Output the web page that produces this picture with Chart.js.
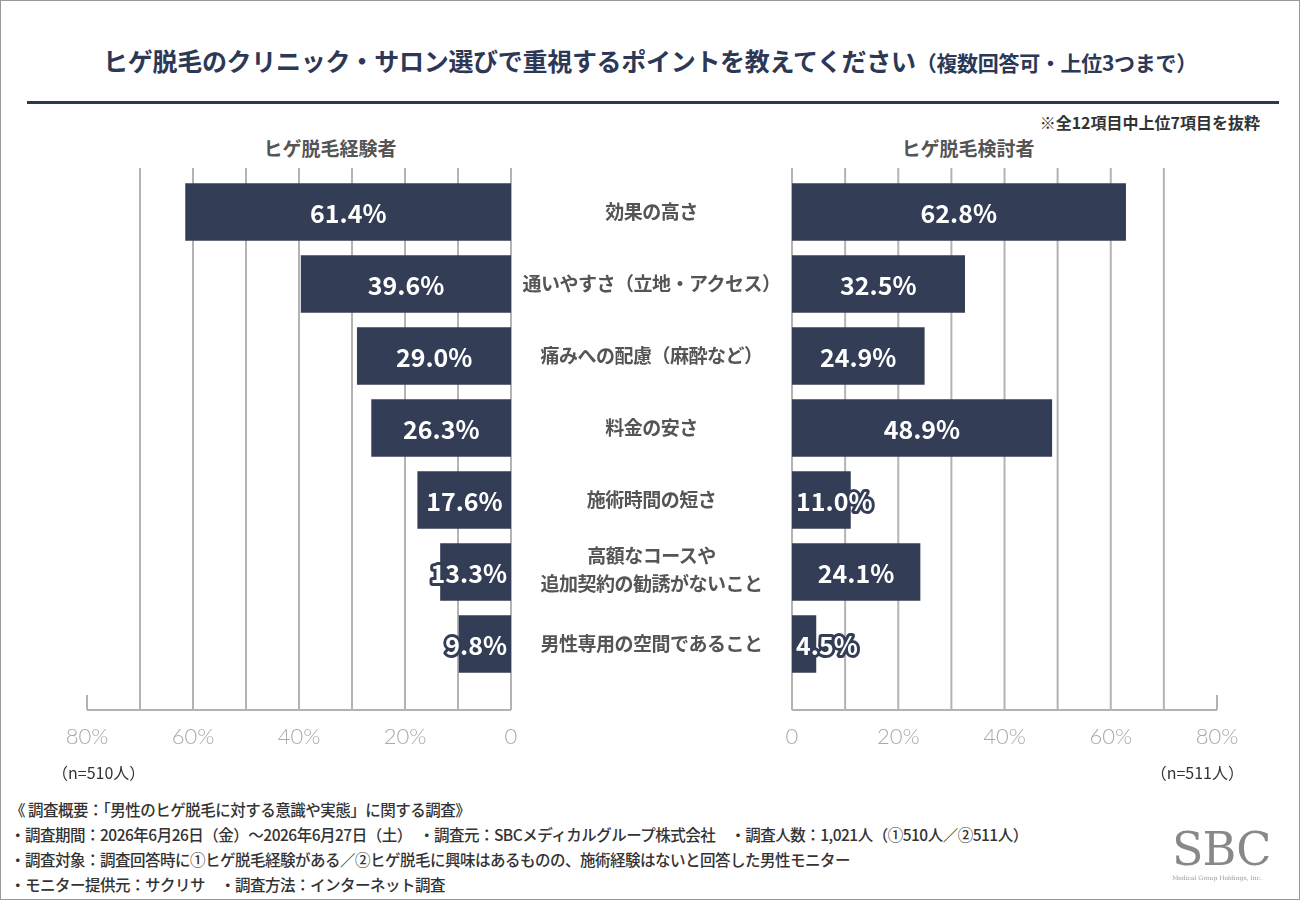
<!DOCTYPE html>
<html><head><meta charset="utf-8">
<script src="https://cdn.jsdelivr.net/npm/chart.js@4"></script>
<style>
body{margin:0;width:1300px;height:900px;position:relative;background:#fff;font-family:"Noto Sans CJK JP",sans-serif;overflow:hidden}
.frame{position:absolute;left:0;top:0;width:1298px;height:898px;border:1px solid #999}
.t{position:absolute;white-space:nowrap;font-weight:bold}
canvas{position:absolute}
</style></head><body>
<div class="frame"></div>
<div class="t" style="left:0;width:1300px;top:42px;text-align:center;font-size:25px;color:#2c3856;letter-spacing:-0.3px">ヒゲ脱毛のクリニック・サロン選びで重視するポイントを教えてください<span style="font-size:21px">（複数回答可・上位3つまで）</span></div>
<div style="position:absolute;left:27px;top:101px;width:1252px;height:3px;background:#2c3856"></div>
<div class="t" style="right:40px;top:110px;font-size:16px;color:#333">※全12項目中上位7項目を抜粋</div>
<div class="t" style="left:230px;width:200px;text-align:center;top:134px;font-size:19px;color:#555">ヒゲ脱毛経験者</div>
<div class="t" style="left:868px;width:200px;text-align:center;top:134px;font-size:19px;color:#555">ヒゲ脱毛検討者</div>
<canvas id="left" width="560" height="620" style="left:0;top:160px;width:560px;height:620px"></canvas>
<canvas id="right" width="560" height="620" style="left:740px;top:160px;width:560px;height:620px"></canvas>
<div id="cats"></div>
<div class="t" style="left:52px;top:760px;font-size:16px;color:#333;font-weight:normal">（n=510人）</div>
<div class="t" style="right:56px;top:760px;font-size:16px;color:#333;font-weight:normal">（n=511人）</div>
<div class="t" style="left:10px;top:797px;font-size:15.5px;color:#333;line-height:25px;font-weight:500;letter-spacing:-0.5px">
《 調査概要：「男性のヒゲ脱毛に対する意識や実態」に関する調査》<br>
・調査期間：2026年6月26日（金）～2026年6月27日（土）　・調査元：SBCメディカルグループ株式会社　・調査人数：1,021人（①510人／②511人）<br>
・調査対象：調査回答時に①ヒゲ脱毛経験がある／②ヒゲ脱毛に興味はあるものの、施術経験はないと回答した男性モニター<br>
・モニター提供元：サクリサ　・調査方法：インターネット調査</div>
<div style="position:absolute;left:1172px;top:826px;width:90px;text-align:center;font-family:'DejaVu Serif',serif;color:#888;font-size:46px;line-height:46px;letter-spacing:-1px">SBC</div>
<div style="position:absolute;left:1172px;top:874px;width:90px;text-align:center;font-family:'DejaVu Serif',serif;color:#999;font-size:6px">Medical Group Holdings, Inc.</div>
<script>
const categories = ['効果の高さ', '通いやすさ（立地・アクセス）', '痛みへの配慮（麻酔など）', '料金の安さ', '施術時間の短さ', '高額なコースや\n追加契約の勧誘がないこと', '男性専用の空間であること'];
const experienced = [61.4, 39.6, 29.0, 26.3, 17.6, 13.3, 9.8];
const considering = [62.8, 32.5, 24.9, 48.9, 11.0, 24.1, 4.5];
const tickValues = [0, 20, 40, 60, 80];

const navy = '#333d55';

// gridlines, axis and bar value labels
const decor = {
    id: 'decor',
    beforeDatasetsDraw(chart) {
        const ctx = chart.ctx, x = chart.scales.x, top = chart.chartArea.top - 8, base = chart.chartArea.bottom + 30;
        ctx.save();
        ctx.strokeStyle = '#b3b3b3';
        ctx.lineWidth = 2;
        for (let v = 0; v <= 80; v += 10) {
            const px = x.getPixelForValue(v);
            ctx.beginPath();
            ctx.moveTo(px, v === 80 ? base - 15 : top);
            ctx.lineTo(px, base);
            ctx.stroke();
        }
        ctx.beginPath();
        ctx.moveTo(x.getPixelForValue(0), base);
        ctx.lineTo(x.getPixelForValue(80), base);
        ctx.stroke();
        ctx.restore();
    },
    afterDatasetsDraw(chart) {
        const ctx = chart.ctx, meta = chart.getDatasetMeta(0), rev = chart.options.scales.x.reverse;
        const data = chart.data.datasets[0].data;
        ctx.save();
        ctx.font = 'bold 25px "Noto Sans CJK JP"';
        ctx.textBaseline = 'middle';
        ctx.lineJoin = 'round';
        meta.data.forEach((bar, i) => {
            const txt = data[i].toFixed(1) + '%';
            const w = ctx.measureText(txt).width;
            const len = Math.abs(bar.x - bar.base);
            let cx;
            if (w + 10 < len) cx = (bar.x + bar.base) / 2;
            else cx = rev ? bar.base - 4 - w / 2 : bar.base + 4 + w / 2;
            ctx.textAlign = 'center';
            if (w + 10 >= len) {
                ctx.strokeStyle = navy;
                ctx.lineWidth = 6;
                ctx.strokeText(txt, cx, bar.y + 1);
            }
            ctx.fillStyle = '#fff';
            ctx.fillText(txt, cx, bar.y + 1);
        });
        ctx.restore();
    }
};

function makeChart(id, values, reverse, padL, padR) {
    return new Chart(document.getElementById(id), {
        type: 'bar',
        data: { labels: categories, datasets: [{ data: values, backgroundColor: navy, barThickness: 57 }] },
        plugins: [decor],
        options: {
            indexAxis: 'y', responsive: false, animation: false,
            layout: { padding: { left: padL, right: padR, top: 16, bottom: 0 } },
            plugins: { legend: { display: false }, tooltip: { enabled: false } },
            scales: {
                y: { display: false },
                x: {
                    min: 0, max: 80, reverse: reverse,
                    afterFit(s) { s.height = 100; },
                    afterBuildTicks(s) { s.ticks = tickValues.map(v => ({ value: v })); },
                    grid: { display: false }, border: { display: false },
                    ticks: {
                        autoSkip: false, padding: 36, color: '#aaa', maxRotation: 0,
                        font: { size: 22, family: 'Lato', weight: '300' },
                        callback: v => v === 0 ? '0' : v + '%'
                    }
                }
            }
        }
    });
}

makeChart('left', experienced, true, 87, 49);
makeChart('right', considering, false, 52, 83);

// centre category labels
const cats = document.getElementById('cats');
categories.forEach((c, i) => {
    const d = document.createElement('div');
    d.className = 't';
    d.style.cssText = 'left:511px;width:281px;text-align:center;font-size:19px;color:#555;line-height:28px;white-space:pre;letter-spacing:-0.5px;top:' + (160 + 16 + 36 + i * 72) + 'px;transform:translateY(-55%)';
    d.textContent = c;
    cats.appendChild(d);
});
</script>
</body></html>
